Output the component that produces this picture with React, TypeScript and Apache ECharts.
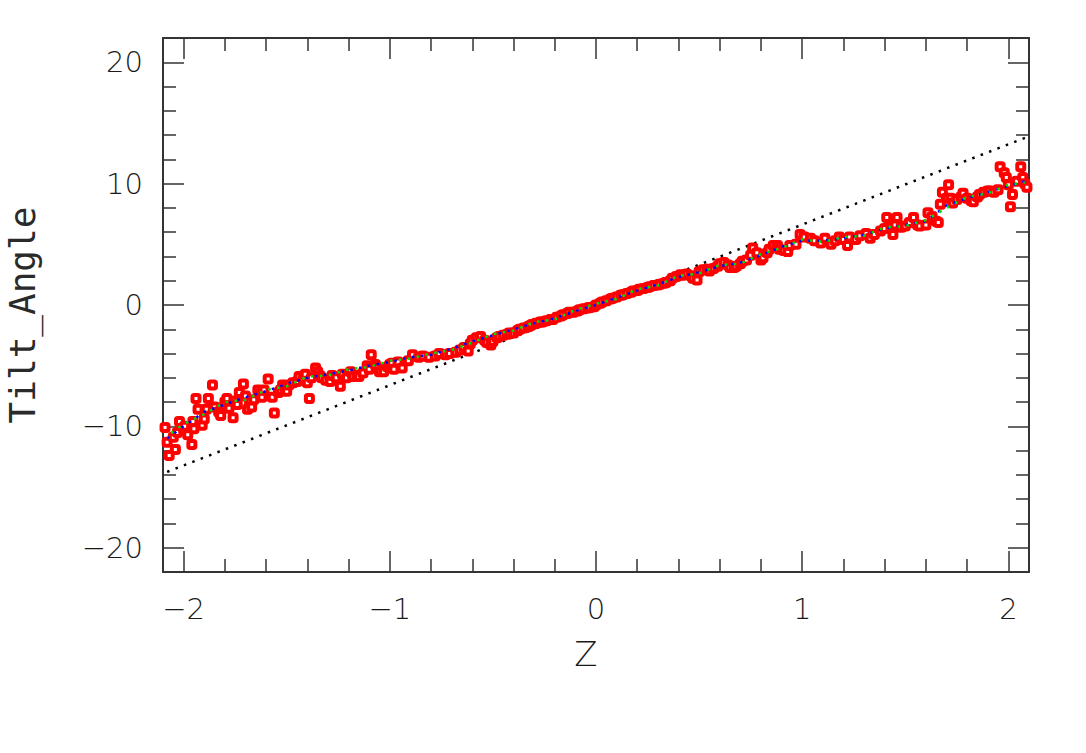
import React, { useEffect, useRef } from "react";
import * as echarts from "echarts";

const xMajorTicks = [-2, -1, 0, 1, 2];
const xMinorTicks = [-1.8, -1.6, -1.4, -1.2, -0.8, -0.6, -0.4, -0.2, 0.2, 0.4, 0.6, 0.8, 1.2, 1.4, 1.6, 1.8];
const yMajorTicks = [-20, -10, 0, 10, 20];
const yMinorTicks = [-18, -16, -14, -12, -8, -6, -4, -2, 2, 4, 6, 8, 12, 14, 16, 18];

// measured points [Z, Tilt_Angle]
const measuredLeft: [number, number][] = [
  [-2.09, -10.1], [-2.08, -11.3], [-2.07, -12.4], [-2.05, -10.9], [-2.04, -11.9], [-2.03, -10.5],
  [-2.02, -9.6], [-2.0, -10.3], [-1.995, -10.0], [-1.98, -10.7], [-1.96, -11.5], [-1.955, -9.6],
  [-1.95, -10.2], [-1.94, -7.7], [-1.93, -8.6], [-1.91, -9.9], [-1.9, -9.4], [-1.89, -8.6],
  [-1.88, -7.7], [-1.86, -6.6], [-1.85, -8.4], [-1.83, -8.8], [-1.825, -8.9], [-1.82, -9.1],
  [-1.8, -8.0], [-1.79, -7.7], [-1.78, -8.5], [-1.76, -9.3], [-1.75, -7.9], [-1.74, -8.2],
  [-1.73, -7.2], [-1.71, -6.5], [-1.7, -7.5], [-1.69, -8.6], [-1.68, -8.0], [-1.67, -8.4],
  [-1.66, -7.8], [-1.64, -7.0], [-1.63, -7.3], [-1.62, -7.6], [-1.61, -7.0], [-1.59, -6.1],
  [-1.57, -7.6], [-1.56, -8.9], [-1.54, -7.2], [-1.53, -7.0], [-1.52, -6.6], [-1.51, -6.8],
  [-1.5, -7.1], [-1.49, -6.6], [-1.47, -6.4], [-1.45, -6.3], [-1.44, -5.9], [-1.42, -6.1],
  [-1.41, -5.7], [-1.4, -6.4], [-1.39, -7.7], [-1.38, -6.0], [-1.36, -5.2], [-1.35, -5.5],
  [-1.34, -5.8], [-1.33, -6.0], [-1.31, -6.2], [-1.29, -6.3], [-1.28, -5.8], [-1.26, -6.0],
  [-1.24, -6.7], [-1.23, -5.7], [-1.21, -6.0], [-1.19, -5.5], [-1.18, -5.9], [-1.16, -5.8],
  [-1.15, -5.9], [-1.13, -5.6], [-1.11, -5.0], [-1.1, -5.3], [-1.09, -4.1], [-1.07, -4.9],
  [-1.06, -5.2], [-1.05, -5.5], [-1.03, -5.5], [-1.01, -5.1], [-1.0, -4.9], [-0.99, -4.8],
  [-0.98, -5.3], [-0.96, -4.7],
];

const measuredCentre: [number, number][] = [
  [-0.94, -5.2], [-0.91, -4.6], [-0.89, -4.1], [-0.86, -4.3], [-0.84, -4.2], [-0.81, -4.3],
  [-0.78, -4.2], [-0.76, -4.0], [-0.73, -4.1], [-0.71, -4.0], [-0.68, -3.9], [-0.66, -3.7],
  [-0.64, -3.5], [-0.62, -3.8], [-0.61, -3.2], [-0.6, -2.9], [-0.58, -2.7], [-0.56, -2.6],
  [-0.54, -2.9], [-0.53, -3.1], [-0.51, -3.3], [-0.5, -3.0], [-0.48, -2.7], [-0.47, -2.6],
  [-0.45, -2.5], [-0.43, -2.4], [-0.42, -2.3], [-0.4, -2.3], [-0.38, -2.1], [-0.37, -2.0],
  [-0.35, -1.9], [-0.33, -1.8], [-0.32, -1.7], [-0.31, -1.6], [-0.29, -1.5], [-0.27, -1.4],
  [-0.26, -1.4], [-0.24, -1.3], [-0.22, -1.2], [-0.21, -1.2], [-0.19, -1.0], [-0.17, -0.9],
  [-0.16, -0.8], [-0.14, -0.7], [-0.13, -0.6], [-0.11, -0.6], [-0.09, -0.5], [-0.08, -0.4],
  [-0.06, -0.3], [-0.04, -0.25], [-0.03, -0.2], [-0.01, -0.15], [0.0, 0.0],
  [0.02, 0.15], [0.03, 0.25], [0.05, 0.35], [0.07, 0.5], [0.08, 0.55], [0.1, 0.65],
  [0.12, 0.8], [0.13, 0.85], [0.15, 0.95], [0.17, 1.05], [0.18, 1.15], [0.2, 1.2],
  [0.21, 1.3], [0.23, 1.35], [0.25, 1.45], [0.26, 1.5], [0.28, 1.6], [0.3, 1.65],
  [0.31, 1.7], [0.33, 1.8], [0.34, 1.85], [0.36, 2.0], [0.37, 2.2], [0.39, 2.35],
  [0.41, 2.5], [0.42, 2.45], [0.44, 2.55], [0.46, 2.4], [0.47, 2.2], [0.49, 2.05],
  [0.5, 2.75], [0.52, 2.9], [0.54, 2.95], [0.55, 2.8], [0.57, 3.0], [0.59, 3.2],
  [0.6, 3.4], [0.62, 3.5], [0.64, 3.3], [0.65, 3.1], [0.67, 3.1], [0.68, 3.2],
  [0.7, 3.4], [0.71, 3.6], [0.73, 3.7], [0.75, 4.1], [0.76, 4.7], [0.78, 4.3],
  [0.8, 3.7], [0.81, 3.9], [0.83, 4.3], [0.84, 4.6], [0.86, 4.9], [0.88, 4.9],
  [0.89, 4.6], [0.91, 4.5], [0.93, 4.4], [0.94, 4.9], [0.97, 5.0], [0.99, 5.8],
  [1.01, 5.6], [1.04, 5.5],
];

const measuredRight: [number, number][] = [
  [1.06, 5.3], [1.09, 5.1], [1.11, 5.5], [1.14, 5.0], [1.16, 5.3], [1.18, 5.6],
  [1.2, 5.4], [1.22, 4.9], [1.23, 5.6], [1.26, 5.4], [1.28, 5.7], [1.31, 5.9],
  [1.33, 5.5], [1.35, 5.8], [1.38, 6.1], [1.4, 6.3], [1.41, 7.2], [1.43, 6.4],
  [1.44, 5.8], [1.45, 6.6], [1.46, 7.2], [1.48, 6.4], [1.5, 6.5], [1.52, 6.8],
  [1.54, 7.2], [1.56, 6.6], [1.57, 6.5], [1.6, 6.6], [1.61, 7.6], [1.63, 7.3],
  [1.65, 6.9], [1.66, 6.8], [1.67, 8.3], [1.68, 9.3], [1.7, 8.8], [1.71, 9.9],
  [1.72, 8.8], [1.73, 8.4], [1.75, 8.7], [1.77, 8.9], [1.78, 9.2], [1.8, 8.8],
  [1.82, 8.6], [1.83, 8.5], [1.85, 8.9], [1.86, 9.1], [1.88, 9.3], [1.9, 9.4],
  [1.91, 9.4], [1.93, 9.3], [1.95, 9.5], [1.96, 11.4], [1.98, 10.9], [1.99, 10.5],
  [2.0, 9.9], [2.01, 8.1], [2.02, 9.1], [2.04, 10.2], [2.06, 11.4], [2.07, 10.5],
  [2.08, 10.0], [2.09, 9.7],
];

const smoothBlue: [number, number][] = [
  [-2.08, -11.0], [-2.0, -10.0], [-1.9, -8.8], [-1.8, -8.2], [-1.7, -7.6], [-1.6, -7.1],
  [-1.5, -6.5], [-1.4, -6.0], [-1.3, -5.7], [-1.2, -5.4], [-1.1, -5.0], [-1.0, -4.7],
  [-0.9, -4.3], [-0.8, -4.1], [-0.7, -3.6], [-0.6, -3.0], [-0.5, -2.5], [-0.4, -2.0],
  [-0.3, -1.5], [-0.2, -1.1], [-0.1, -0.5], [0.0, 0.0], [0.1, 0.6], [0.2, 1.2],
  [0.3, 1.7], [0.4, 2.3], [0.5, 2.7], [0.6, 3.2], [0.7, 3.5], [0.8, 4.1], [0.9, 4.8],
  [1.0, 5.3], [1.1, 5.3], [1.2, 5.5], [1.3, 5.8], [1.4, 6.3], [1.5, 6.6], [1.6, 6.9],
  [1.7, 8.2], [1.8, 8.8], [1.9, 9.3], [2.0, 9.8], [2.08, 10.2],
];

const smoothGreen: [number, number][] = [
  [-2.08, -10.8], [-2.0, -9.8], [-1.9, -9.0], [-1.8, -8.0], [-1.7, -7.8], [-1.6, -7.0],
  [-1.5, -6.7], [-1.4, -5.9], [-1.3, -5.8], [-1.2, -5.3], [-1.1, -5.1], [-1.0, -4.6],
  [-0.9, -4.4], [-0.8, -4.0], [-0.7, -3.7], [-0.6, -3.1], [-0.5, -2.4], [-0.4, -2.1],
  [-0.3, -1.4], [-0.2, -1.2], [-0.1, -0.4], [0.0, 0.1], [0.1, 0.5], [0.2, 1.3],
  [0.3, 1.6], [0.4, 2.4], [0.5, 2.6], [0.6, 3.3], [0.7, 3.4], [0.8, 4.2], [0.9, 4.7],
  [1.0, 5.4], [1.1, 5.2], [1.2, 5.6], [1.3, 5.7], [1.4, 6.4], [1.5, 6.5], [1.6, 7.0],
  [1.7, 8.0], [1.8, 8.9], [1.9, 9.2], [2.0, 9.9], [2.08, 10.1],
];

const referenceLine: [number, number][] = [[-2.08, -13.75], [2.1, 13.9]];

const fmt = (v: number) => String(v).replace("-", "\u2212");

export default function App() {
  const ref = useRef<HTMLDivElement>(null);
  useEffect(() => {
    if (!ref.current) return;
    const chart = echarts.init(ref.current, undefined, { renderer: "svg" });
    const frame = { show: true, onZero: false, lineStyle: { color: "#333", width: 2 } };
    const noLine = { show: false, onZero: false };
    const tickLine = { color: "#333", width: 1.5 };
    const labelFont = {
      fontFamily: "DejaVu Sans",
      fontWeight: 200 as any,
      fontSize: 29,
      color: "#1a1a1a",
    };
    const xBase = { type: "value", min: -2.1, max: 2.1, gridIndex: 0, splitLine: { show: false } };
    const yBase = { type: "value", min: -22, max: 22, gridIndex: 0, splitLine: { show: false } };
    const dotted = (color: string) => ({
      color,
      width: 2.5,
      type: [2.5, 6.5],
      cap: "butt",
    });
    chart.setOption({
      animation: false,
      backgroundColor: "#fff",
      grid: { left: 163, right: 57, top: 38, bottom: 181, containLabel: false },
      xAxis: [
        {
          ...xBase,
          position: "bottom",
          axisLine: frame,
          axisTick: { show: true, inside: true, length: 21, customValues: xMajorTicks, lineStyle: tickLine },
          axisLabel: { show: true, customValues: xMajorTicks, formatter: fmt, margin: 22, ...labelFont },
        },
        {
          ...xBase,
          position: "bottom",
          axisLine: noLine,
          axisTick: { show: true, inside: true, length: 13, customValues: xMinorTicks, lineStyle: tickLine },
          axisLabel: { show: false },
        },
        {
          ...xBase,
          position: "top",
          axisLine: frame,
          axisTick: { show: true, inside: true, length: 21, customValues: xMajorTicks, lineStyle: tickLine },
          axisLabel: { show: false },
        },
        {
          ...xBase,
          position: "top",
          axisLine: noLine,
          axisTick: { show: true, inside: true, length: 13, customValues: xMinorTicks, lineStyle: tickLine },
          axisLabel: { show: false },
        },
      ],
      yAxis: [
        {
          ...yBase,
          position: "left",
          axisLine: frame,
          axisTick: { show: true, inside: true, length: 21, customValues: yMajorTicks, lineStyle: tickLine },
          axisLabel: { show: true, customValues: yMajorTicks, formatter: fmt, margin: 20, ...labelFont },
        },
        {
          ...yBase,
          position: "left",
          axisLine: noLine,
          axisTick: { show: true, inside: true, length: 13, customValues: yMinorTicks, lineStyle: tickLine },
          axisLabel: { show: false },
        },
        {
          ...yBase,
          position: "right",
          axisLine: frame,
          axisTick: { show: true, inside: true, length: 21, customValues: yMajorTicks, lineStyle: tickLine },
          axisLabel: { show: false },
        },
        {
          ...yBase,
          position: "right",
          axisLine: noLine,
          axisTick: { show: true, inside: true, length: 13, customValues: yMinorTicks, lineStyle: tickLine },
          axisLabel: { show: false },
        },
      ],
      graphic: [
        {
          type: "text",
          x: 586,
          y: 654,
          style: {
            text: "Z",
            font: "200 34px 'DejaVu Sans'",
            fill: "#1a1a1a",
            textAlign: "center",
            textVerticalAlign: "middle",
            align: "center",
            verticalAlign: "middle",
          },
        },
        {
          type: "text",
          x: 22,
          y: 315,
          rotation: Math.PI / 2,
          style: {
            text: "Tilt_Angle",
            font: "200 36px 'DejaVu Sans Mono'",
            fill: "#2a2a2a",
            textAlign: "center",
            textVerticalAlign: "middle",
            align: "center",
            verticalAlign: "middle",
          },
        },
      ],
      series: [
        {
          type: "line",
          name: "model",
          data: referenceLine,
          xAxisIndex: 0,
          yAxisIndex: 0,
          showSymbol: false,
          lineStyle: dotted("#000"),
          z: 2,
        },
        {
          type: "scatter",
          name: "measured",
          data: [...measuredLeft, ...measuredCentre, ...measuredRight],
          xAxisIndex: 0,
          yAxisIndex: 0,
          symbol: "roundRect",
          symbolSize: 7,
          itemStyle: { color: "#ffffff", borderColor: "#ff0000", borderWidth: 4, opacity: 1 },
          z: 3,
        },
        {
          type: "line",
          name: "smooth blue",
          data: smoothBlue,
          xAxisIndex: 0,
          yAxisIndex: 0,
          showSymbol: false,
          lineStyle: dotted("#0000ff"),
          z: 4,
        },
        {
          type: "line",
          name: "smooth green",
          data: smoothGreen,
          xAxisIndex: 0,
          yAxisIndex: 0,
          showSymbol: false,
          lineStyle: { ...dotted("#00e000"), dashOffset: 4 },
          z: 4,
        },
      ],
    });
    return () => chart.dispose();
  }, []);
  return (
    <div
      ref={ref}
      style={{ position: "fixed", left: 0, top: 0, width: 1086, height: 753, background: "#fff" }}
    />
  );
}
